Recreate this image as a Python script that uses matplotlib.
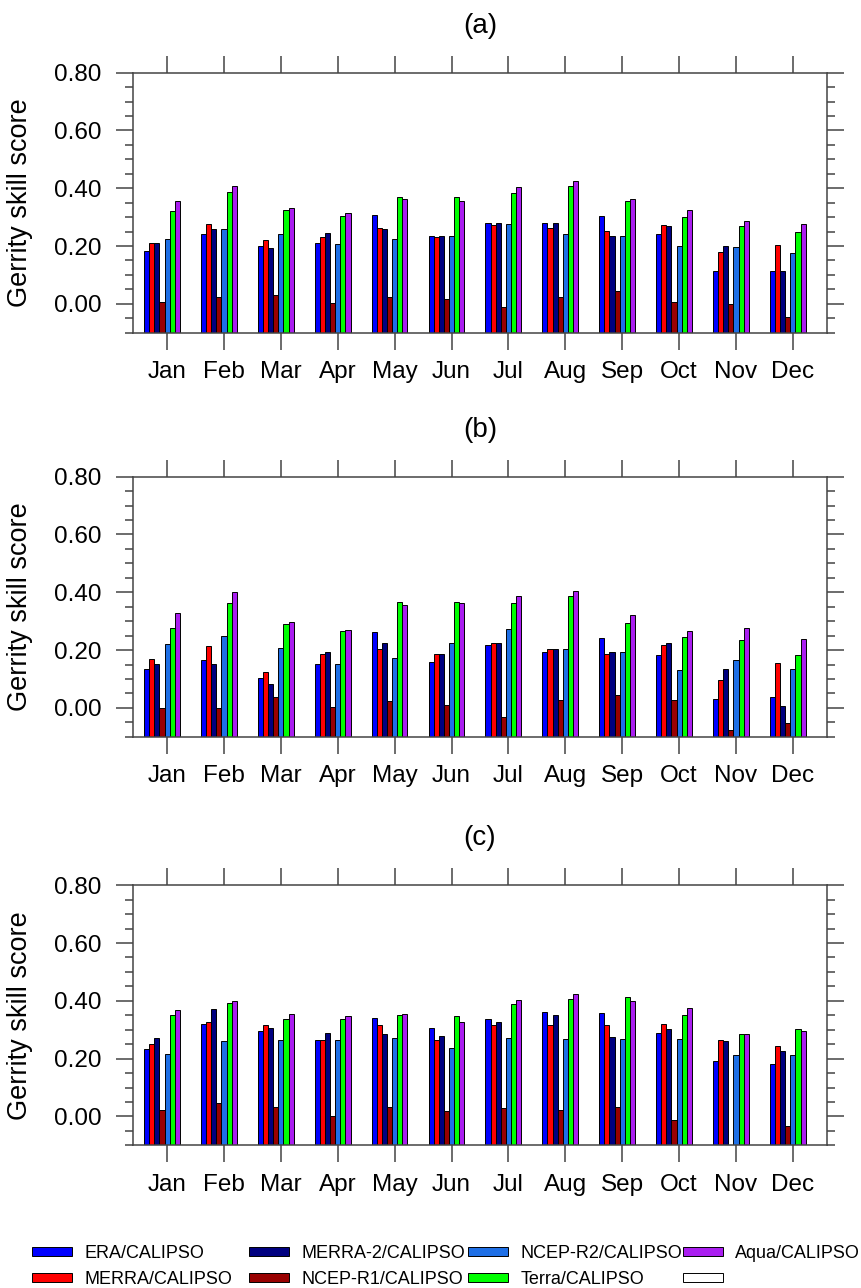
import numpy as np
import matplotlib.pyplot as plt
from matplotlib.patches import Patch
from matplotlib.ticker import MultipleLocator

plt.rcParams['font.family'] = ['Liberation Sans', 'DejaVu Sans']

months = ["Jan", "Feb", "Mar", "Apr", "May", "Jun", "Jul", "Aug", "Sep", "Oct", "Nov", "Dec"]
series = ["ERA/CALIPSO", "MERRA/CALIPSO", "MERRA-2/CALIPSO", "NCEP-R1/CALIPSO",
          "NCEP-R2/CALIPSO", "Terra/CALIPSO", "Aqua/CALIPSO", ""]
colors = ["#0000ff", "#ff0000", "#000080", "#990000", "#1e6fe6", "#00ff00", "#aa1ef0", "#ffffff"]
panels = ["(a)", "(b)", "(c)"]

# panel (a)
era_a    = [0.184, 0.240, 0.200, 0.211, 0.309, 0.236, 0.280, 0.280, 0.304, 0.240, 0.112, 0.112]
merra_a  = [0.212, 0.276, 0.220, 0.231, 0.262, 0.231, 0.273, 0.264, 0.251, 0.273, 0.179, 0.205]
merra2_a = [0.212, 0.260, 0.192, 0.244, 0.260, 0.236, 0.280, 0.280, 0.236, 0.268, 0.200, 0.112]
ncep1_a  = [0.005, 0.022, 0.031, 0.003, 0.022, 0.016, -0.010, 0.022, 0.043, 0.006, 0.000, -0.044]
ncep2_a  = [0.224, 0.260, 0.240, 0.208, 0.224, 0.236, 0.276, 0.240, 0.236, 0.200, 0.196, 0.177]
terra_a  = [0.320, 0.388, 0.323, 0.304, 0.369, 0.369, 0.385, 0.408, 0.355, 0.300, 0.268, 0.247]
aqua_a   = [0.356, 0.409, 0.333, 0.315, 0.364, 0.356, 0.404, 0.424, 0.364, 0.323, 0.288, 0.276]

# panel (b)
era_b    = [0.136, 0.164, 0.104, 0.152, 0.263, 0.159, 0.219, 0.193, 0.242, 0.184, 0.032, 0.036]
merra_b  = [0.169, 0.215, 0.124, 0.188, 0.203, 0.188, 0.224, 0.202, 0.187, 0.219, 0.096, 0.155]
merra2_b = [0.152, 0.152, 0.083, 0.192, 0.224, 0.188, 0.224, 0.202, 0.192, 0.224, 0.135, 0.007]
ncep1_b  = [0.000, 0.000, 0.036, 0.002, 0.022, 0.010, -0.032, 0.027, 0.046, 0.027, -0.075, -0.054]
ncep2_b  = [0.220, 0.248, 0.208, 0.152, 0.171, 0.224, 0.272, 0.202, 0.192, 0.132, 0.167, 0.135]
terra_b  = [0.275, 0.364, 0.291, 0.267, 0.368, 0.367, 0.364, 0.387, 0.292, 0.244, 0.234, 0.182]
aqua_b   = [0.328, 0.400, 0.296, 0.271, 0.357, 0.364, 0.387, 0.403, 0.323, 0.267, 0.275, 0.238]

# panel (c)
era_c    = [0.232, 0.319, 0.295, 0.263, 0.339, 0.307, 0.336, 0.363, 0.359, 0.287, 0.191, 0.183]
merra_c  = [0.251, 0.326, 0.316, 0.263, 0.316, 0.263, 0.316, 0.316, 0.316, 0.319, 0.263, 0.243]
merra2_c = [0.271, 0.371, 0.307, 0.287, 0.284, 0.279, 0.326, 0.351, 0.276, 0.303, 0.260, 0.227]
ncep1_c  = [0.022, 0.045, 0.033, 0.002, 0.033, 0.018, 0.030, 0.023, 0.033, -0.014, np.nan, -0.033]
ncep2_c  = [0.216, 0.260, 0.263, 0.263, 0.271, 0.235, 0.271, 0.268, 0.268, 0.268, 0.211, 0.211]
terra_c  = [0.351, 0.394, 0.336, 0.336, 0.351, 0.347, 0.388, 0.407, 0.412, 0.352, 0.284, 0.303]
aqua_c   = [0.367, 0.399, 0.355, 0.347, 0.355, 0.328, 0.403, 0.423, 0.399, 0.376, 0.284, 0.295]

data = [
    [era_a, merra_a, merra2_a, ncep1_a, ncep2_a, terra_a, aqua_a],
    [era_b, merra_b, merra2_b, ncep1_b, ncep2_b, terra_b, aqua_b],
    [era_c, merra_c, merra2_c, ncep1_c, ncep2_c, terra_c, aqua_c],
]

YMIN, YMAX = -0.1, 0.8
W = 0.09
x = np.arange(1, 13)

fig = plt.figure(figsize=(8.61, 12.88), dpi=100)
bottoms = [0.7417, 0.428, 0.1108]

for p in range(3):
    ax = fig.add_axes([0.1545, bottoms[p], 0.806, 0.2019])
    for i, vals in enumerate(data[p]):
        v = np.array(vals, dtype=float)
        ax.bar(x + (i - 4) * W, v - YMIN, W, bottom=YMIN, color=colors[i],
               edgecolor="black", linewidth=0.7, zorder=2)

    ax.set_xlim(0.4, 12.6)
    ax.set_ylim(YMIN, YMAX)
    ax.set_xticks(x)
    ax.set_xticklabels(months, fontsize=17.5)
    ax.set_yticks([0.0, 0.2, 0.4, 0.6, 0.8])
    ax.set_yticklabels(["0.00", "0.20", "0.40", "0.60", "0.80"], fontsize=17.5)
    ax.yaxis.set_minor_locator(MultipleLocator(0.05))
    ax.tick_params(axis="both", which="major", direction="out", length=12.5, width=1.1,
                   color="#444444", top=True, right=True)
    ax.tick_params(axis="y", which="minor", direction="out", length=6, width=1.1,
                   color="#444444", right=True)
    ax.tick_params(axis="x", which="major", pad=8)
    ax.tick_params(axis="y", which="major", pad=10)
    for s in ax.spines.values():
        s.set_color("#444444")
        s.set_linewidth(1.1)

    ax.set_ylabel("Gerrity skill score", fontsize=19.5)
    ax.yaxis.set_label_coords(-0.144, 0.5)
    ax.text(0.5, 1.18, panels[p], transform=ax.transAxes, ha="center", va="center", fontsize=20)

# legend: four fixed-width columns, two rows each
handles = [Patch(facecolor=c, edgecolor="black", linewidth=0.7) for c in colors]
col_x = [0.0372, 0.2892, 0.5436, 0.7933]
for k in range(4):
    leg = fig.legend(handles[2 * k:2 * k + 2], series[2 * k:2 * k + 2],
                     loc="upper left", bbox_to_anchor=(col_x[k], 0.0335),
                     frameon=False, fontsize=13, borderpad=0, borderaxespad=0,
                     handlelength=2.2, handleheight=0.4, handletextpad=0.7,
                     labelspacing=0.5)

fig.savefig("out.png", dpi=100)
